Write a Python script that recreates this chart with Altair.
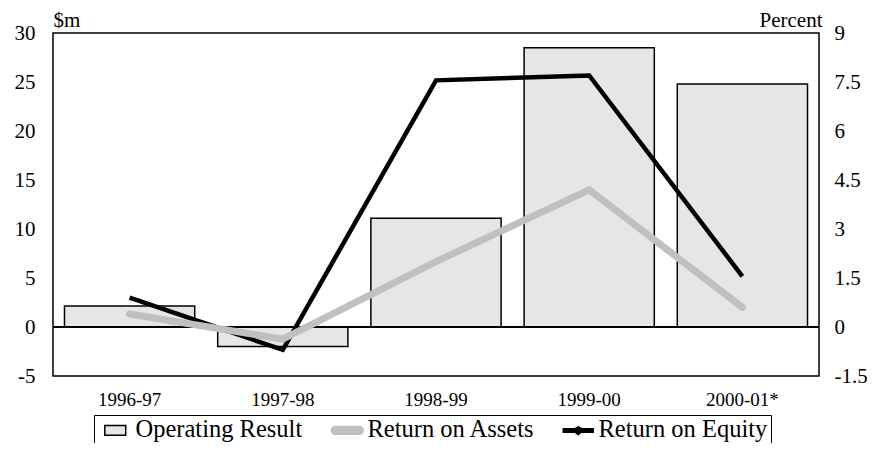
import altair as alt
import pandas as pd

categories = ["1996-97", "1997-98", "1998-99", "1999-00", "2000-01*"]
operating_result = [2.15, -2.0, 11.1, 28.5, 24.8]
return_on_assets = [0.4, -0.37, 2.0, 4.2, 0.6]
return_on_equity = [0.9, -0.7, 7.55, 7.7, 1.55]
series_names = ["Operating Result", "Return on Assets", "Return on Equity"]
left_ticks = [-5, 0, 5, 10, 15, 20, 25, 30]
right_ticks = [-1.5, 0, 1.5, 3, 4.5, 6, 7.5, 9]

FONT = "Liberation Serif"

df = pd.DataFrame({
    "year": categories,
    "op": operating_result,
    "roa": return_on_assets,
    "roe": return_on_equity,
})

xscale = alt.Scale(type="band", domain=categories, paddingInner=0.15, paddingOuter=0.075)
xenc = alt.X("year:N", scale=xscale, sort=categories,
             axis=alt.Axis(title=None, labelAngle=0, labelFontSize=19, labelPadding=14,
                           labelFont=FONT))

base = alt.Chart(df)

bars = base.mark_bar(fill="#e6e6e6", stroke="black", strokeWidth=1.5).encode(
    x=xenc,
    y=alt.Y("op:Q", scale=alt.Scale(domain=[-5, 30], nice=False, zero=False),
            axis=alt.Axis(orient="left", title="$m", titleAngle=0, titleAlign="left",
                          titleX=0, titleY=-7, titleBaseline="alphabetic",
                          values=left_ticks, labelExpr="'' + datum.value",
                          labelPadding=18, labelFontSize=21, labelFont=FONT)),
)
zero_rule = base.mark_rule(color="black", strokeWidth=2).encode(y=alt.datum(0))
left = alt.layer(bars, zero_rule)

yr = alt.Y("roe:Q", scale=alt.Scale(domain=[-1.5, 9], nice=False, zero=False),
           axis=alt.Axis(orient="right", title="Percent", titleAngle=0, titleAlign="right",
                         titleX=3, titleY=-7, titleBaseline="alphabetic",
                         values=right_ticks, labelExpr="'' + datum.value",
                         labelPadding=15, labelFontSize=21, labelFont=FONT))
roe_line = base.mark_line(color="black", strokeWidth=4.5).encode(x=xenc, y=yr)
roa_line = base.mark_line(color="#c0c0c0", strokeWidth=7, strokeCap="round").encode(
    x=xenc, y=alt.Y("roa:Q"))
right = alt.layer(roe_line, roa_line)

paths = [
    "M-0.95,-0.45H0.95V0.45H-0.95Z",
    "M-1.1,-0.35H1.1A0.35,0.35 0 0 1 1.1,0.35H-1.1A0.35,0.35 0 0 1 -1.1,-0.35Z",
    "M-1.36,-0.15H-0.3L0,-0.32L0.3,-0.15H1.36V0.17H0.3L0,0.38L-0.3,0.17H-1.36Z",
]
leg = alt.Legend(title=None, orient="none", legendX=41, legendY=382, direction="horizontal",
                 padding=3, strokeColor="black", labelFont=FONT, labelFontSize=24.5,
                 labelColor="black", symbolSize=484, symbolStrokeWidth=1.5,
                 symbolOffset=6, columnPadding=25, labelOffset=8, labelLimit=400,
                 symbolOpacity=1)
leg_df = pd.DataFrame({"series": series_names})
legend_layer = alt.Chart(leg_df).transform_filter("false").mark_point(
    filled=True, opacity=1, strokeWidth=1.5).encode(
    fill=alt.Fill("series:N", scale=alt.Scale(domain=series_names,
                  range=["#e6e6e6", "#c0c0c0", "black"]), legend=leg),
    stroke=alt.Stroke("series:N", scale=alt.Scale(domain=series_names,
                      range=["black", "#c0c0c0", "black"]), legend=leg),
    shape=alt.Shape("series:N", scale=alt.Scale(domain=series_names, range=paths), legend=leg),
)

chart = alt.layer(left, right, legend_layer).resolve_scale(y="independent").properties(
    width=766, height=343,
    autosize=alt.AutoSizeParams(type="none"),
    padding={"left": 45, "top": 25, "right": 48, "bottom": 67},
).configure_view(stroke="black", strokeWidth=1.5).configure_axis(
    grid=False, ticks=False, domain=False, labelFont=FONT, titleFont=FONT,
    labelColor="black", titleColor="black", titleFontSize=21, titleFontWeight="normal",
)

chart.save("out.html", embed_options={"renderer": "svg", "actions": False})
